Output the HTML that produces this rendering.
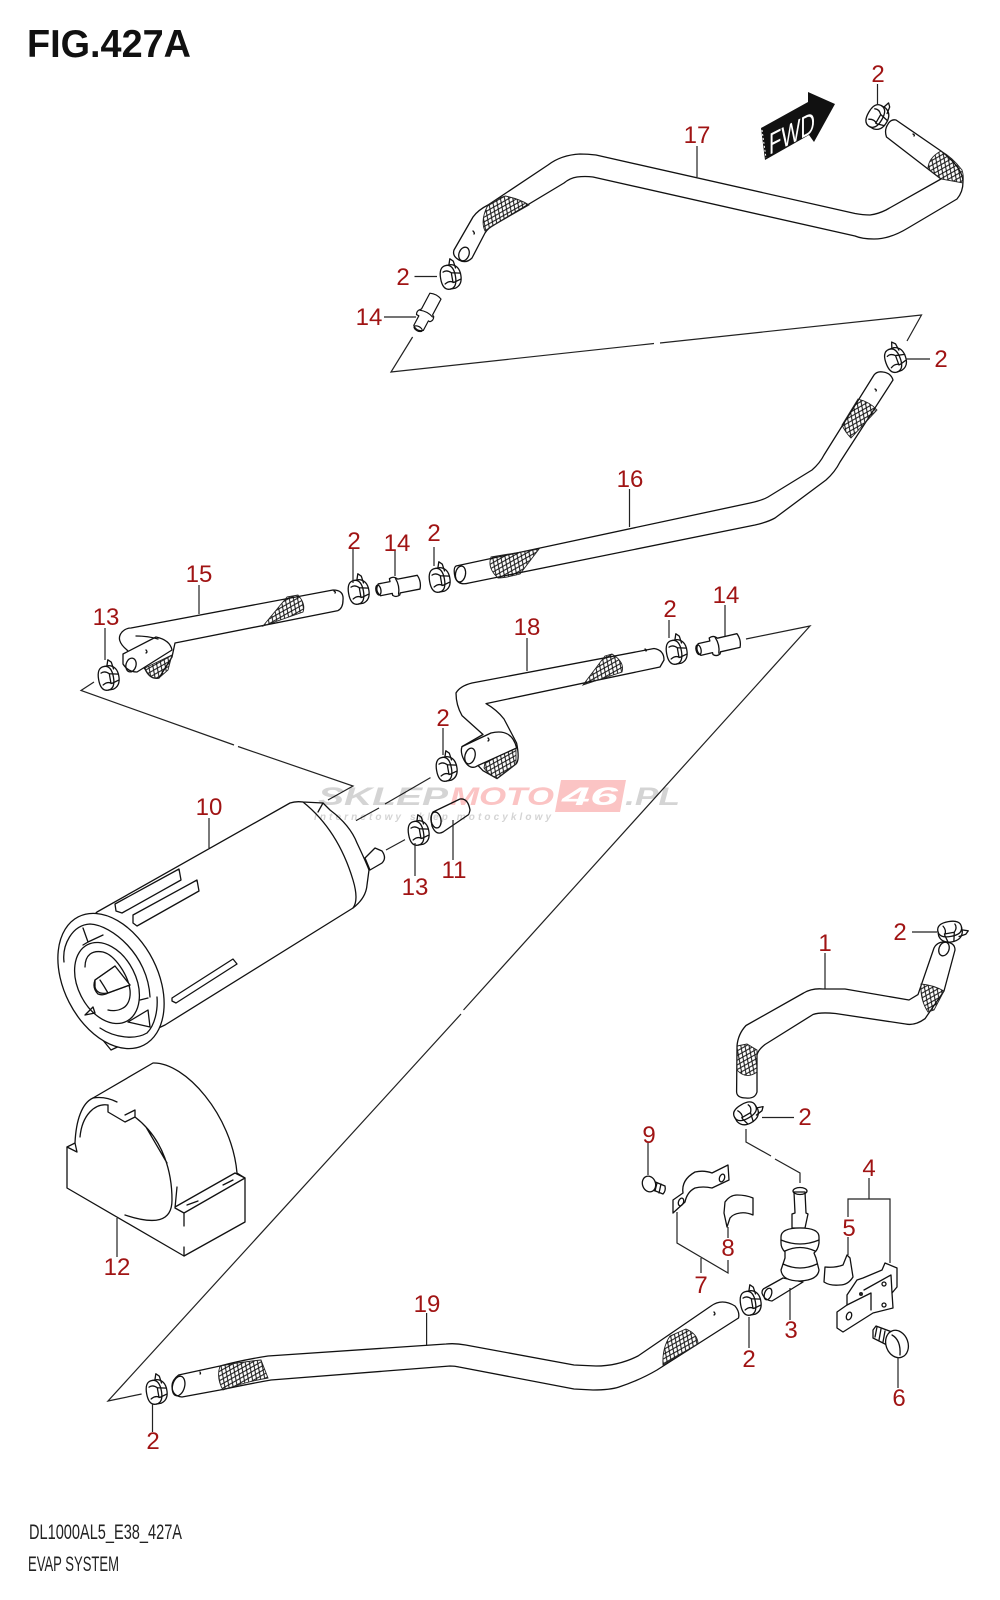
<!DOCTYPE html>
<html><head><meta charset="utf-8"><title>FIG.427A</title>
<style>
html,body{margin:0;padding:0;background:#fff}
svg{display:block}
.p{fill:#fff;stroke:#111;stroke-width:1.3;stroke-linejoin:round;stroke-linecap:round}
.n{fill:none;stroke:#111;stroke-width:1.3;stroke-linejoin:round;stroke-linecap:round}
.l{fill:none;stroke:#222;stroke-width:1.2}
.b{fill:url(#br);stroke:#222;stroke-width:.9}
.t{font:24px "Liberation Sans",sans-serif;fill:#a01414;text-anchor:middle}
</style></head><body>
<svg width="1000" height="1600" viewBox="0 0 1000 1600" xmlns="http://www.w3.org/2000/svg">
<defs>
<pattern id="br" width="5" height="7" patternUnits="userSpaceOnUse" patternTransform="rotate(25)">
<path d="M0,0L5,7M5,0L0,7" stroke="#111" stroke-width="1" fill="none"/>
</pattern>
<g id="c">
<path class="p" d="M-2,-12L3,-12Q11,-10 11,0Q11,10 3,12L-2,12Q-9.5,12 -9.5,0Q-9.5,-12 -2,-12Z"/>
<path class="n" d="M-2,-12Q5.5,-12 5.5,0Q5.5,12 -2,12"/>
<path class="n" d="M-6,-6Q-2,-8 2,-4L11,-2M-6,6Q-1,3 3,6L10,4M1,-12L3,-18L6,-15L7,-8M2,-4L2,6"/>
</g>
<g id="m">
<path class="p" d="M-20,-6L-8,-6L-8,-9Q-4,-11 -1,-8L0,-7L20,-7Q23,0 20,7L0,7L-1,9Q-5,11 -8,8L-8,6L-20,6Q-25,0 -20,-6Z"/>
<ellipse class="n" cx="-21" cy="0" rx="2.5" ry="5"/>
<path class="n" d="M-2,-8Q1,0 -2,8"/>
</g>
</defs>

<rect width="1000" height="1600" fill="#fff"/>

<!-- watermark box -->
<polygon points="561,780 626,780 620,812 555,812" fill="#fbc4c4"/>
<text x="562" y="805" font-family="'Liberation Sans',sans-serif" font-weight="bold" font-style="italic" font-size="25" fill="#fff" textLength="56" lengthAdjust="spacingAndGlyphs">46</text>

<!-- title -->
<text x="27" y="57" font-family="'Liberation Sans',sans-serif" font-weight="bold" font-size="39" fill="#111" textLength="164" lengthAdjust="spacingAndGlyphs">FIG.427A</text>
<text x="29" y="1539" font-family="'Liberation Sans',sans-serif" font-size="21" fill="#222" textLength="153" lengthAdjust="spacingAndGlyphs">DL1000AL5_E38_427A</text>
<text x="28" y="1571" font-family="'Liberation Sans',sans-serif" font-size="21" fill="#222" textLength="91" lengthAdjust="spacingAndGlyphs">EVAP SYSTEM</text>

<!-- connectors -->
<path class="l" d="M412.6,337L391,372L654,343.5M660,343L921.5,315L907,341"/>
<path class="l" d="M94,682L81,690.5L234,745M238,746.5L353,786L328,800"/>
<path class="l" d="M746,639L810,626L463.5,1010M461,1014L108,1401L141.6,1394"/>
<path class="l" d="M430.5,777.6L385,804M379,808L356,820.6M405,839.6L386,850"/>
<path class="l" d="M746,1129L746,1142L771,1156M775,1159L800,1173L800,1183"/>

<!-- FWD -->
<polygon points="761,128 808,102 808,92 835,104 814,142 809,135 765,160" fill="#111"/>
<path d="M762,130L766,158" stroke="#fff" stroke-width="1" stroke-dasharray="2 2" fill="none"/>
<text transform="translate(769,155) skewY(-27)" font-family="'Liberation Sans',sans-serif" font-size="30" fill="#fff" textLength="46" lengthAdjust="spacingAndGlyphs">FWD</text>

<!-- tube 17 -->
<path class="p" d="M896,120L941,151Q963,168 963,182Q963,192 957,199L908,228Q890,239 874,239Q862,239 855,236L593,177Q585,176 577,177Q570,178 564,183L494,225Q488,228 485,233L472,258Q466,264 459,260Q452,256 454,250L473,217Q478,210 488,205L548,165Q561,155 580,154Q588,154 596,155L855,213.5Q863,215 870,215Q878,214 886,210L941,179L928,169L886.5,137Q884,130 888,124Q891,119 896,120Z"/>
<path class="b" d="M941,151Q952,157 962,170Q964,176 963,183L941,179L928,169Q928,158 941,151Z"/>
<path class="b" d="M488,205Q498,198 505,196Q520,199 529,205L494,225L485,231Q480,220 488,205Z"/>
<ellipse class="n" cx="464" cy="254" rx="5" ry="7" transform="rotate(20 464 254)"/>
<path class="n" d="M473,231q2,2 1,3M913,134q2,1 1,2"/>

<!-- tube 16 -->
<path class="p" d="M883,372Q891,373 893,380L840,462Q835,472 826,480L775,518Q768,522 755,525L469,583Q458,586 455,577Q453,568 456,566L750,503Q763,500 768,497L812,470Q820,463 824,455L874,375Q877,371 883,372Z"/>
<path class="b" d="M858,399Q870,402 877,410L851,438Q845,432 842,425Z"/>
<path class="b" d="M491,557L539,549L520,574Q505,578 498,578Q487,568 491,557Z"/>
<ellipse class="n" cx="460.5" cy="574" rx="5" ry="8" transform="rotate(10 460.5 574)"/>
<path class="n" d="M875,389q2,1 1,2"/>

<!-- tube 15 -->
<path class="p" d="M175,643L172,657L159,678Q150,680 145,669L127,650Q115,640 122,632Q126,628 131,628L333,590Q344,590 343,600Q343,608 338,610.6Z"/>
<path class="b" d="M287,597L298,595Q306,604 303,612L263,626Z"/>
<path class="b" d="M145,668L172,655L168,670L159,678Q150,680 145,668Z"/>
<path class="p" d="M123,654L156,637Q170,640 172,650L137,672Q128,672 123,664Z"/>
<ellipse class="n" cx="131" cy="665" rx="5" ry="7" transform="rotate(15 131 665)"/>
<path class="n" d="M136,636Q148,636 158,639M146,650q2,2 0,3M334,591q2,1 1,2"/>

<!-- tube 18 -->
<path class="p" d="M472,683L654,648.5Q664,650 664,660L660,667L486,703.6Q497,710 504,719L516.6,743Q520,760 516,764L497,778.6L483,770.7L478,765.5L462,746.6L483,734.5L462,715.6Q456,705 456,693Q460,686 472,683Z"/>
<path class="b" d="M605,656L612,654Q625,662 622,672L583,685Z"/>
<path class="b" d="M487,752L516,748L516,764L497,778.6Q488,774 484,768Z"/>
<path class="p" d="M462,746.6L491,733Q512,728 516.6,748L478,765.5Q470,771 464,760Q460,752 462,746.6Z"/>
<ellipse class="n" cx="470" cy="756" rx="5" ry="8" transform="rotate(15 470 756)"/>
<path class="n" d="M488,738q2,2 0,3M645,649q2,1 1,2"/>

<!-- hose 11 -->
<path class="p" d="M433,812L460,799Q468,798 470,810Q469,815 468,815L443,832Q436,836 432,826Q430,816 433,812Z"/>
<ellipse class="n" cx="436" cy="820" rx="5" ry="8" transform="rotate(-10 436 820)"/>

<!-- canister 10 -->
<path class="p" d="M97,912L290,803Q296,801 303,802L323,803L330,810Q350,825 357,843Q366,862 369,870L367,885Q366,898 353,908L165,1025L111,1050L70,1000L60,950Z"/>
<path class="n" d="M303,802Q338,830 353,880Q359,900 353,908M323,803L318,812"/>
<path class="n" d="M115,904L179,869L181,880L122,913L116,911ZM133,915L197,880L199,891L137,926L133,923ZM172,998L233,959L237,964L176,1003L172,1001Z"/>
<path class="p" d="M365,858L375,848L382,851Q387,858 382,863L370,870Z"/>
<ellipse class="p" cx="111" cy="981" rx="47" ry="72" transform="rotate(-27 111 981)"/>
<path class="n" d="M64,962C62,945 72,925 90,924C112,925 148,955 150,997"/>
<path class="n" d="M100,1028C115,1038 135,1040 147,1033C155,1025 158,1010 157,997"/>
<ellipse class="n" cx="107" cy="983" rx="29" ry="43" transform="rotate(-27 107 983)"/>
<path class="n" d="M85,967C85,955 92,950 103,952C115,955 128,975 130,990C131,1000 127,1006 123,1008C118,1011 112,1011 108,1010"/>
<path class="n" d="M83,928L88,942L83,945M88,942L103,935M85,1015L93,1007L95,1013L85,1015M128,1022L148,1010L150,1027L128,1022M140,1000L148,998"/>
<path class="p" d="M95,980L115,966L130,985L108,993Q97,995 95,987Z" stroke="none"/>
<path class="n" d="M95,980L115,966M108,993L130,985M95,980Q92,988 98,994Q103,996 108,993M100,980Q104,986 108,993"/>

<!-- part 12 -->
<path class="p" d="M93,1098L153,1063C185,1062 232,1115 237,1173L245,1178L245,1222L184,1256L67,1188L67,1147L75,1143C76,1120 82,1103 93,1098Z"/>
<path class="n" d="M93,1098Q105,1096 117,1102M80,1137C82,1115 95,1103 108,1105M75,1143L77,1152L67,1147"/>
<path class="n" d="M108,1105L108,1112L125,1122L135,1117L135,1110L125,1115M135,1117C165,1140 172,1175 172,1200C172,1222 155,1225 125,1215M146,1127L167,1163"/>
<path class="n" d="M175,1207L235,1173L245,1178L184,1213L175,1208L177,1187M184,1213L184,1226M184,1247L184,1256M187,1205L198,1201M223,1185L233,1180"/>

<!-- part 1 -->
<path class="p" d="M737,1046Q738,1034 746,1025.5L803.6,993Q812,988 823,989L845,989L909,1000L918,994.6L934,948Q937,942 944,942Q955,942 955,950L944,991L925,1018.7Q915,1026 905.6,1024L835.5,1013.5Q820,1012 813,1014.5L765,1044.5Q758,1050 757,1055L757,1092Q755,1099 746,1098Q737,1098 736.6,1092Z"/>
<ellipse class="n" cx="944" cy="949" rx="5" ry="7" transform="rotate(20 944 949)"/>
<path class="b" d="M921,984Q933,985 944,991L934,1010L928,1012Q920,1000 921,984Z"/>
<path class="b" d="M737,1046L747,1044L757,1050L757,1072Q746,1080 737,1070Z"/>

<!-- part 3 -->
<path class="p" d="M765,1288L783,1278L803,1282L772,1301Q764,1300 762,1293Q762,1289 765,1288Z"/>
<ellipse class="n" cx="768" cy="1294" rx="3.5" ry="6" transform="rotate(20 768 1294)"/>
<path class="p" d="M794,1192L795,1213L792,1214L792,1228L805,1228L808,1214L806,1213L805,1192Z"/>
<path class="p" d="M781,1237Q781,1228 800,1228Q819,1228 819,1237L819,1243Q818,1250 814,1253L816,1258L819,1270Q818,1280 800,1281Q782,1281 781,1270L785,1258L785,1252Q781,1248 781,1243Z"/>
<ellipse class="n" cx="800" cy="1191" rx="7" ry="3.5"/>
<path class="n" d="M785,1251Q800,1244 815,1251M783,1264Q800,1272 817,1264M781,1240Q800,1248 819,1240"/>

<!-- part 7, 8, 9 -->
<path class="p" d="M673,1200L683,1193Q681,1180 695,1172Q704,1170 712,1173L728,1165L729,1180L712,1188Q703,1186 695,1188Q687,1192 685,1202L673,1213Z"/>
<ellipse class="n" cx="681" cy="1202" rx="2.5" ry="4" transform="rotate(20 681 1202)"/>
<ellipse class="n" cx="722" cy="1178" rx="2.5" ry="4" transform="rotate(20 722 1178)"/>
<path class="p" d="M725,1202Q730,1195 737,1195Q746,1195 753,1198L753,1215Q746,1212 740,1213Q733,1214 730,1218L727,1227L724,1213Z"/>
<path class="p" d="M653,1181L665,1186Q666,1191 663,1194L653,1190Z"/>
<path class="n" d="M657,1183L655,1191M661,1184L659,1193"/>
<ellipse class="p" cx="649" cy="1184" rx="6.5" ry="8" transform="rotate(-20 649 1184)"/>

<!-- part 5, 4, 6 -->
<path class="p" d="M825,1267Q835,1268 843,1265L847,1255L850,1258L853,1277Q848,1285 840,1285Q830,1286 824,1282Z"/>
<path class="p" d="M837,1312L847,1305L847,1295L857,1280L863,1278L882,1270L885,1263L897,1268L897,1287L892,1293L893,1308L873,1313L843,1332L837,1328Z"/>
<path class="n" d="M864,1290L891,1275L892,1293M871,1293L871,1310M847,1305L871,1293"/>
<circle cx="861" cy="1294" r="2" fill="#222"/>
<ellipse class="n" cx="849" cy="1316" rx="2.5" ry="4" transform="rotate(20 849 1316)"/>
<circle class="n" cx="884" cy="1284" r="2"/>
<circle class="n" cx="884" cy="1305" r="2"/>
<path class="p" d="M873,1330L876,1326L892,1332L887,1345L873,1338Z"/>
<path class="n" d="M877,1327L875,1337M881,1329L879,1340M885,1331L883,1342"/>
<ellipse class="p" cx="897" cy="1344" rx="11" ry="14" transform="rotate(-20 897 1344)"/>
<path class="n" d="M892,1335Q901,1340 900,1355"/>

<!-- tube 19 -->
<path class="p" d="M711,1306L638,1356Q618,1366 596,1366L574,1365L465.6,1345Q455,1343 446,1344L268,1356Q242,1360 220,1366L178.6,1375Q172,1380 172,1386Q172,1396 182,1397L220,1390Q248,1384 271,1380L450,1366Q455,1366 459,1367L574,1389L593,1390Q610,1390 619,1387Q640,1380 657,1370L738.5,1318Q740,1312 735,1306Q722,1298 711,1306Z"/>
<path class="b" d="M220,1366Q240,1362 261,1360L268,1378Q245,1382 223,1390Q216,1378 220,1366Z"/>
<path class="b" d="M670,1336L686,1329Q698,1334 698,1344L663,1365Q662,1348 670,1336Z"/>
<ellipse class="n" cx="178.6" cy="1386" rx="6" ry="10" transform="rotate(15 178.6 1386)"/>
<path class="n" d="M714,1312q2,2 0,3M200,1372q1,2 0,2"/>

<!-- clips -->
<use href="#c" transform="translate(877,117) rotate(30)"/>
<use href="#c" transform="translate(450,277) rotate(-10)"/>
<use href="#c" transform="translate(895,360) rotate(-20)"/>
<use href="#c" transform="translate(358,592) rotate(-10)"/>
<use href="#c" transform="translate(439,580) rotate(-10)"/>
<use href="#c" transform="translate(108,678) rotate(-10)"/>
<use href="#c" transform="translate(676,652) rotate(-10)"/>
<use href="#c" transform="translate(446,769) rotate(-10)"/>
<use href="#c" transform="translate(418,833) rotate(-10)"/>
<use href="#c" transform="translate(950,931) rotate(80)"/>
<use href="#c" transform="translate(746,1113) rotate(60)"/>
<use href="#c" transform="translate(750,1303) rotate(-10)"/>
<use href="#c" transform="translate(156,1392) rotate(-10)"/>

<!-- nipples -->
<use href="#m" transform="translate(427,312) rotate(-62) scale(.9)"/>
<use href="#m" transform="translate(399,586) rotate(-11)"/>
<use href="#m" transform="translate(719,645) rotate(-13)"/>

<!-- leaders -->
<path class="l" d="M877.5,84V105M414.5,276.5H437M384,317H416M906,359H930M629.5,489V527M697,146V177M353,549V583M395,550V576M434,547V566M199,585V614M105,628V660M527,638V671M669,620V638M725,605V636M443,728V755M209,818V848M117,1218V1257M415,843V876M453,820V860M825,953V989M912,932H937M762,1117.5H794M648,1143V1175M677,1212V1243L728,1273V1260M728,1227V1238M701,1258V1273M869,1178V1199M848,1217V1199H890V1263M848,1237V1255M790,1288V1320M749,1317V1348M898,1357V1388M426.6,1313V1345M152.5,1404V1432"/>

<!-- watermark text over art -->
<g font-family="'Liberation Sans',sans-serif" font-weight="bold" font-style="italic" style="mix-blend-mode:multiply">
<text x="318" y="805" font-size="25" fill="#d4d4d4" textLength="130" lengthAdjust="spacingAndGlyphs">SKLEP</text>
<text x="450" y="805" font-size="25" fill="#fbc4c4" textLength="104" lengthAdjust="spacingAndGlyphs">MOTO</text>
<text x="625" y="805" font-size="25" fill="#d4d4d4" textLength="55" lengthAdjust="spacingAndGlyphs">.PL</text>
<text x="314" y="820" font-size="10" fill="#d4d4d4" textLength="237" lengthAdjust="spacing">internetowy sklep motocyklowy</text>
</g>

<!-- labels -->
<g class="t">
<text class="t" x="878" y="82">2</text>
<text class="t" x="697" y="143">17</text>
<text class="t" x="403" y="285">2</text>
<text class="t" x="369" y="325">14</text>
<text class="t" x="941" y="367">2</text>
<text class="t" x="630" y="487">16</text>
<text class="t" x="354" y="549">2</text>
<text class="t" x="397" y="551">14</text>
<text class="t" x="434" y="541">2</text>
<text class="t" x="199" y="582">15</text>
<text class="t" x="106" y="625">13</text>
<text class="t" x="527" y="635">18</text>
<text class="t" x="670" y="617">2</text>
<text class="t" x="726" y="603">14</text>
<text class="t" x="443" y="726">2</text>
<text class="t" x="209" y="815">10</text>
<text class="t" x="454" y="878">11</text>
<text class="t" x="415" y="895">13</text>
<text class="t" x="825" y="951">1</text>
<text class="t" x="900" y="940">2</text>
<text class="t" x="805" y="1125">2</text>
<text class="t" x="649" y="1143">9</text>
<text class="t" x="869" y="1176">4</text>
<text class="t" x="849" y="1236">5</text>
<text class="t" x="728" y="1256">8</text>
<text class="t" x="117" y="1275">12</text>
<text class="t" x="701" y="1293">7</text>
<text class="t" x="427" y="1312">19</text>
<text class="t" x="791" y="1338">3</text>
<text class="t" x="749" y="1367">2</text>
<text class="t" x="899" y="1406">6</text>
<text class="t" x="153" y="1449">2</text>
</g>
</svg>
</body></html>
